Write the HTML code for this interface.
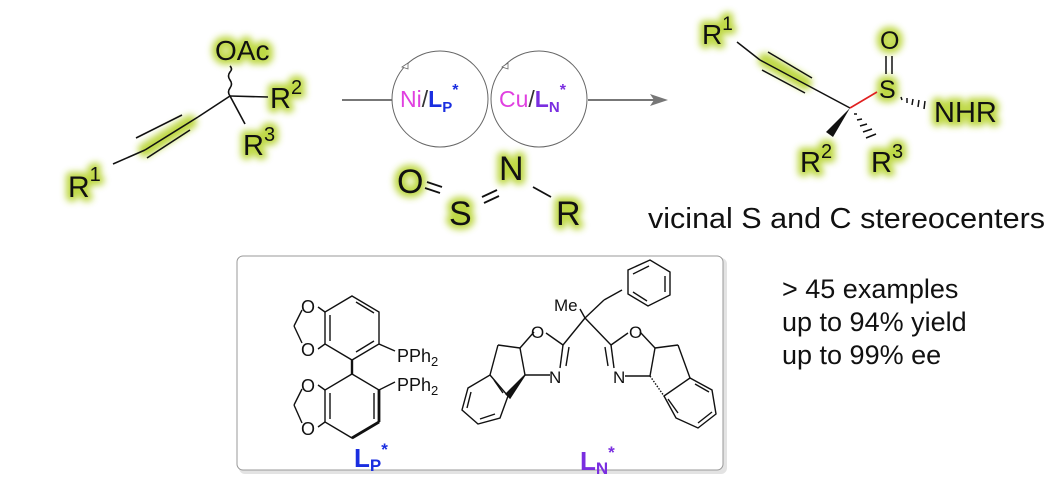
<!DOCTYPE html>
<html><head><meta charset="utf-8"><style>
html,body{margin:0;padding:0;background:#fff;}
svg{display:block;font-family:"Liberation Sans",Arial,sans-serif;}
</style></head><body>
<svg width="1054" height="494" viewBox="0 0 1054 494" xmlns="http://www.w3.org/2000/svg">
<defs>
<filter id="glow" x="-30%" y="-30%" width="160%" height="160%">
<feGaussianBlur stdDeviation="3.5"/>
</filter>
</defs>
<!-- glow layers -->
<g filter="url(#glow)" fill="#b8d430" stroke="#b8d430" stroke-width="9" stroke-linejoin="round" stroke-linecap="round" opacity="0.9">
<text x="215" y="60" font-size="28">OAc</text>
<text x="270" y="108" font-size="29">R<tspan font-size="20" dy="-14">2</tspan></text>
<text x="243" y="155" font-size="29">R<tspan font-size="20" dy="-14">3</tspan></text>
<text x="68" y="197" font-size="30">R<tspan font-size="20" dy="-16">1</tspan></text>
<line x1="190" y1="122" x2="145" y2="150" stroke-width="14"/>
<text x="397" y="193" font-size="34">O</text><text x="449" y="225" font-size="34">S</text>
<text x="499" y="180" font-size="34">N</text><text x="556" y="225" font-size="34">R</text>
<text x="702" y="44" font-size="28">R<tspan font-size="19" dy="-14">1</tspan></text>
<line x1="765" y1="60" x2="805" y2="83" stroke-width="14"/>
<text x="879" y="98" font-size="25">S</text><text x="880" y="49" font-size="25">O</text>
<text x="934" y="122" font-size="29">NHR</text>
<text x="800" y="172" font-size="29">R<tspan font-size="20" dy="-14">2</tspan></text>
<text x="871" y="172" font-size="29">R<tspan font-size="20" dy="-14">3</tspan></text>
</g>
<!-- reactant -->
<g stroke="#111" stroke-width="1.6" fill="none">
<line x1="230" y1="96" x2="268" y2="97"/>
<line x1="230" y1="96" x2="245" y2="124"/>
<path d="M230 96 q-3 -4 0 -8 q3 -4 0 -8 q-3 -4 0 -8 q3 -3 0 -6"/>
<line x1="230" y1="96" x2="198" y2="117"/>
<line x1="198" y1="117" x2="145" y2="150"/>
<line x1="182" y1="115" x2="136" y2="138"/>
<line x1="190" y1="130" x2="147" y2="158"/>
<line x1="145" y1="150" x2="113" y2="164"/>
</g>
<g fill="#111">
<text x="215" y="60" font-size="28">OAc</text>
<text x="270" y="108" font-size="29">R<tspan font-size="20" dy="-14">2</tspan></text>
<text x="243" y="155" font-size="29">R<tspan font-size="20" dy="-14">3</tspan></text>
<text x="68" y="197" font-size="30">R<tspan font-size="20" dy="-16">1</tspan></text>
</g>
<!-- arrow and circles -->
<g stroke="#777" stroke-width="2" fill="none">
<line x1="342" y1="100" x2="392" y2="100"/>
<line x1="588" y1="100" x2="655" y2="100"/>
</g>
<polygon points="668,100 650,94 654,100 650,106" fill="#777"/>
<circle cx="440" cy="99" r="48" fill="none" stroke="#666" stroke-width="1"/>
<circle cx="539" cy="99" r="48" fill="none" stroke="#666" stroke-width="1"/>
<path d="M402 67 l6 -4 l0 6 z" fill="#fff" stroke="#666" stroke-width="0.8"/>
<path d="M502 67 l6 -4 l0 6 z" fill="#fff" stroke="#666" stroke-width="0.8"/>
<text x="400" y="107" font-size="23"><tspan fill="#e040e0">Ni</tspan><tspan fill="#333">/</tspan><tspan fill="#1a2ee0" font-weight="bold">L</tspan><tspan fill="#1a2ee0" font-weight="bold" font-size="15" dy="5">P</tspan><tspan fill="#1a2ee0" font-weight="bold" font-size="16" dy="-17">*</tspan></text>
<text x="499" y="107" font-size="23"><tspan fill="#e040e0">Cu</tspan><tspan fill="#333">/</tspan><tspan fill="#7a2ee0" font-weight="bold">L</tspan><tspan fill="#7a2ee0" font-weight="bold" font-size="15" dy="5">N</tspan><tspan fill="#7a2ee0" font-weight="bold" font-size="16" dy="-17">*</tspan></text>
<!-- sulfinylamine -->
<g stroke="#111" stroke-width="1.8">
<line x1="427" y1="182" x2="442" y2="187"/><line x1="425" y1="188" x2="440" y2="193"/>
<line x1="482" y1="197" x2="497" y2="190"/><line x1="484" y1="203" x2="499" y2="196"/>
<line x1="533" y1="187" x2="551" y2="197"/>
</g>
<g fill="#111" font-size="34">
<text x="397" y="193">O</text><text x="449" y="225">S</text><text x="499" y="180">N</text><text x="556" y="225">R</text>
</g>
<!-- product -->
<g stroke="#111" stroke-width="1.5" fill="none">
<line x1="737" y1="42" x2="760" y2="60"/>
<line x1="760" y1="60" x2="850" y2="108"/>
<line x1="768" y1="52" x2="812" y2="78"/>
<line x1="762" y1="70" x2="805" y2="93"/>
<line x1="886" y1="56" x2="886" y2="74"/><line x1="892" y1="56" x2="892" y2="74"/>
<line x1="901" y1="97" x2="902" y2="100"/><line x1="907" y1="98" x2="907" y2="103"/><line x1="913" y1="99" x2="912" y2="105"/><line x1="919" y1="100" x2="918" y2="107"/><line x1="925" y1="101" x2="924" y2="109"/>
<line x1="854" y1="114" x2="857" y2="114"/><line x1="857" y1="120" x2="862" y2="119"/><line x1="860" y1="126" x2="867" y2="124"/><line x1="863" y1="132" x2="872" y2="129"/><line x1="866" y1="138" x2="876" y2="134"/>
</g>
<line x1="850" y1="108" x2="877" y2="92" stroke="#e02020" stroke-width="1.6"/>
<polygon points="850,108 833,137 826,132" fill="#111"/>
<g fill="#111">
<text x="702" y="44" font-size="28">R<tspan font-size="19" dy="-14">1</tspan></text>
<text x="879" y="98" font-size="25">S</text><text x="880" y="49" font-size="25">O</text>
<text x="934" y="122" font-size="29">NHR</text>
<text x="800" y="172" font-size="29">R<tspan font-size="20" dy="-14">2</tspan></text>
<text x="871" y="172" font-size="29">R<tspan font-size="20" dy="-14">3</tspan></text>
<text x="648" y="228" font-size="29" textLength="397" lengthAdjust="spacingAndGlyphs">vicinal S and C stereocenters</text>
<text x="782" y="298" font-size="27">&gt; 45 examples</text>
<text x="782" y="331" font-size="27">up to 94% yield</text>
<text x="782" y="364" font-size="27">up to 99% ee</text>
</g>
<!-- box -->
<rect x="239" y="258" width="488" height="216" rx="6" fill="#c8c8c8" opacity="0.5"/>
<rect x="237" y="256" width="486" height="214" rx="6" fill="#fff" stroke="#999" stroke-width="1"/>
<!-- LP ligand -->
<g stroke="#111" stroke-width="1.4" fill="none">
<polygon points="352,296 379,312 379,344 352,360 325,344 325,312"/>
<line x1="356" y1="302" x2="374" y2="313"/><line x1="374" y1="341" x2="356" y2="352"/><line x1="330" y1="315" x2="330" y2="341"/>
<polygon points="352,374 379,390 379,422 352,438 325,422 325,390"/>
<line x1="352" y1="360" x2="352" y2="374" stroke-width="2.4"/>
<line x1="374" y1="393" x2="374" y2="419"/><line x1="330" y1="393" x2="330" y2="419" />
<line x1="379" y1="422" x2="352" y2="438" stroke-width="2.8"/><line x1="379" y1="390" x2="379" y2="422" stroke-width="2.8"/>
<line x1="379" y1="344" x2="395" y2="351"/><line x1="379" y1="390" x2="395" y2="382"/>
<line x1="325" y1="312" x2="318" y2="307"/><line x1="325" y1="344" x2="318" y2="349"/>
<line x1="302" y1="310" x2="294" y2="326"/><line x1="294" y1="326" x2="302" y2="343"/>
<line x1="325" y1="390" x2="318" y2="385"/><line x1="325" y1="422" x2="318" y2="427"/>
<line x1="302" y1="389" x2="294" y2="405"/><line x1="294" y1="405" x2="302" y2="423"/>
</g>
<g fill="#111" font-size="18">
<text x="301" y="313">O</text><text x="301" y="356">O</text>
<text x="301" y="392">O</text><text x="301" y="435">O</text>
<text x="397" y="362">PPh<tspan font-size="13" dy="4">2</tspan></text>
<text x="397" y="391">PPh<tspan font-size="13" dy="4">2</tspan></text>
</g>
<text x="354" y="467" font-size="26" font-weight="bold" fill="#1a2ee0">L<tspan font-size="17" dy="4">P</tspan><tspan font-size="17" dy="-16">*</tspan></text>
<!-- LN ligand -->
<g stroke="#111" stroke-width="1.4" fill="none">
<line x1="585" y1="318" x2="563" y2="345"/><line x1="585" y1="318" x2="611" y2="345"/>
<line x1="585" y1="318" x2="580" y2="309"/><line x1="585" y1="318" x2="604" y2="300"/>
<line x1="604" y1="300" x2="622" y2="290"/>
<polygon points="628,270 650,260 670,272 670,295 648,306 628,294"/>
<line x1="633" y1="274" x2="649" y2="266"/><line x1="665" y1="276" x2="665" y2="292"/><line x1="647" y1="301" x2="633" y2="292"/>
<!-- left oxazoline -->
<line x1="563" y1="345" x2="546" y2="333"/><line x1="563" y1="345" x2="560" y2="368"/><line x1="569" y1="347" x2="566" y2="366"/>
<line x1="534" y1="332" x2="520" y2="348"/><line x1="550" y1="375" x2="525" y2="375"/><line x1="520" y1="348" x2="525" y2="375"/>
<line x1="520" y1="348" x2="498" y2="345"/><line x1="498" y1="345" x2="490" y2="375"/>
<polygon points="525,375 510,398 506,394" fill="#111"/>
<polygon points="490,375 508,396 500,418 478,424 462,410 468,388"/>
<line x1="494" y1="380" x2="503" y2="393"/><line x1="480" y1="419" x2="495" y2="414"/><line x1="467" y1="408" x2="471" y2="392"/>
<!-- right oxazoline -->
<line x1="611" y1="345" x2="628" y2="333"/><line x1="611" y1="345" x2="614" y2="368"/><line x1="605" y1="347" x2="608" y2="366"/>
<line x1="640" y1="332" x2="655" y2="348"/><line x1="625" y1="376" x2="650" y2="376"/><line x1="655" y1="348" x2="650" y2="376"/>
<line x1="655" y1="348" x2="678" y2="345"/><line x1="678" y1="345" x2="690" y2="378"/>
<polygon points="664,396 690,378 712,390 716,414 698,428 676,418"/>
<line x1="695" y1="384" x2="709" y2="392"/><line x1="712" y1="412" x2="698" y2="423"/><line x1="678" y1="413" x2="668" y2="399"/>
</g>
<line x1="650" y1="376" x2="664" y2="396" stroke="#111" stroke-width="1.4" stroke-dasharray="1.5 1.5"/>
<g fill="#111" font-size="17">
<text x="554" y="311">Me</text>
<text x="531" y="338">O</text><text x="549" y="383">N</text>
<text x="629" y="338">O</text><text x="613" y="383">N</text>
</g>
<text x="580" y="470" font-size="26" font-weight="bold" fill="#7a2ee0">L<tspan font-size="17" dy="4">N</tspan><tspan font-size="17" dy="-16">*</tspan></text>
</svg>
</body></html>
